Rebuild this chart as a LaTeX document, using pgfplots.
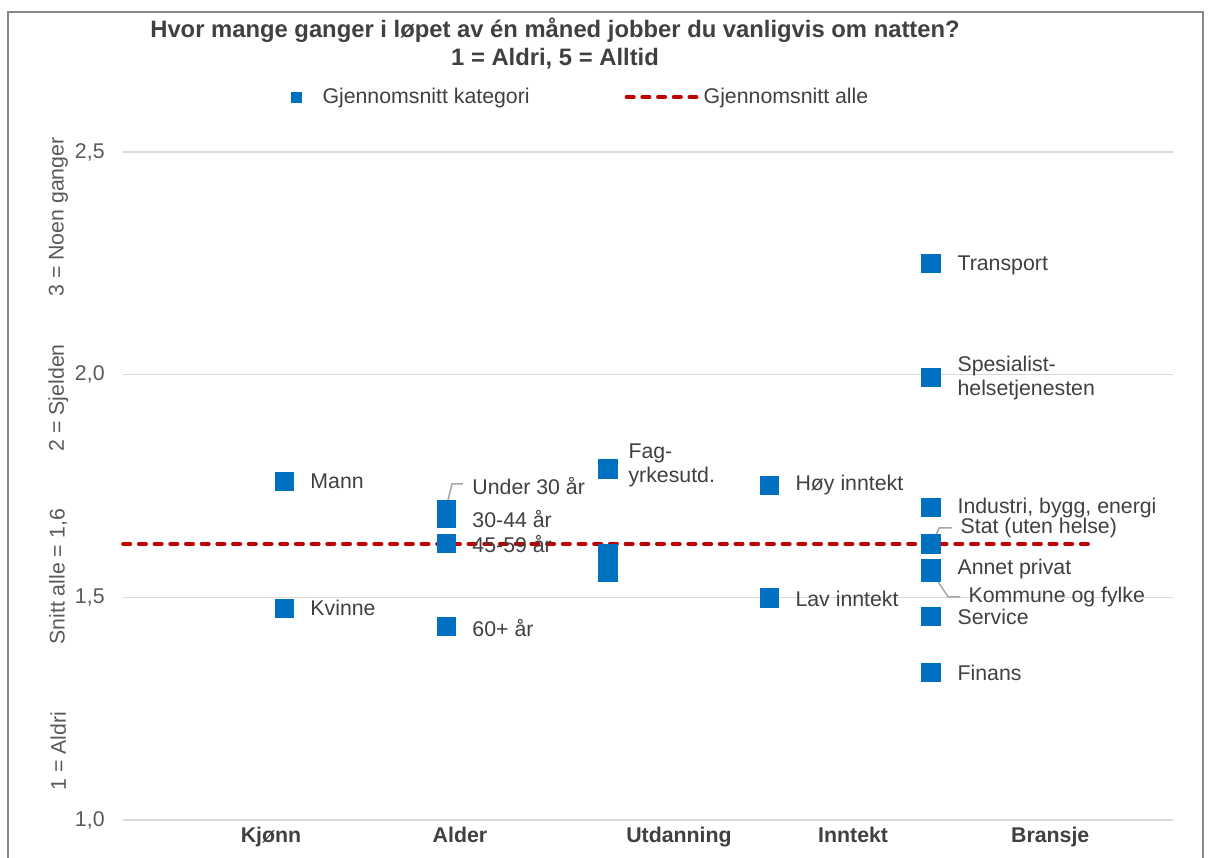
\documentclass[border=0pt]{standalone}
\usepackage{pgfplots}
\pgfplotsset{compat=1.18}
\usepackage{fontspec}
\setmainfont{Liberation Sans}
\definecolor{mblue}{HTML}{0070C0}
\definecolor{dred}{HTML}{C00000}
\definecolor{textgray}{HTML}{404040}
\definecolor{tickgray}{HTML}{595959}
\definecolor{gridgray}{HTML}{D9D9D9}
\definecolor{leadgray}{HTML}{A6A6A6}
\definecolor{bordergray}{HTML}{878787}
\newcommand{\lblfont}{\fontsize{10.65}{12}\selectfont}
\tikzset{lbl/.style={anchor=west, inner sep=0pt, text=textgray, font=\lblfont, align=left}}
\begin{document}
\begin{tikzpicture}
\useasboundingbox (0,0) rectangle (604pt,428.5pt);
\draw[color=bordergray, line width=1pt] (4pt,-20pt) -- (4pt,422.5pt) -- (601.5pt,422.5pt) -- (601.5pt,-20pt);
\begin{axis}[
  at={(61.5pt,18.5pt)}, anchor=south west,
  width=525pt, height=334pt, scale only axis,
  xmin=0, xmax=6.5, ymin=1, ymax=2.5,
  ytick={1,1.5,2,2.5},
  yticklabel={\pgfmathprintnumber[fixed,fixed zerofill,precision=1,use comma]{\tick}},
  xtick={0.916,2.086,3.442,4.520,5.740},
  xticklabels={Kjønn,Alder,Utdanning,Inntekt,Bransje},
  ymajorgrids, grid style={color=gridgray, line width=0.75pt},
  axis line style={draw=none}, major tick length=0pt,
  clip=false,
  /pgf/number format/assume math mode=true,
  yticklabel style={font=\lblfont, text=tickgray, inner sep=0pt, anchor=east, xshift=-9pt},
  xticklabel style={font=\lblfont\bfseries, text=textgray, inner sep=0pt, anchor=north, yshift=-3.5pt},
  legend columns=2,
  legend style={at={(0.154,1.0823)}, anchor=west, draw=none, fill=none,
    nodes={inner sep=0pt, anchor=west, text=textgray, font=\lblfont},
    /tikz/every even column/.append style={column sep=47.5pt}},
]
\addplot[mblue, only marks, mark=square*, mark size=4.6pt, mark options={solid, fill=mblue, draw=mblue, line width=0.3pt},
  legend image code/.code={\fill[mblue] (0pt,-2.5pt) rectangle (5pt,2.5pt); \path[draw=none, fill=none] (0pt,0pt) -- (15.5pt,0pt);}]
  coordinates {
  (1,1.761) (1,1.476)
  (2,1.697) (2,1.679) (2,1.621) (2,1.435)
  (3,1.789) (3,1.598) (3,1.556)
  (4,1.752) (4,1.499)
  (5,2.250) (5,1.994) (5,1.702) (5,1.620) (5,1.565) (5,1.557) (5,1.458) (5,1.332)
  };
\addlegendentry{Gjennomsnitt kategori}
\addplot[dred, line width=1.8pt, dash pattern=on 3.7pt off 4.15pt, line cap=round,
  legend image code/.code={\draw[dred, line width=1.8pt, dash pattern=on 3.7pt off 4.15pt, line cap=round] (0.9pt,0pt) -- (37pt,0pt); \path[draw=none, fill=none] (0pt,0pt) -- (39.5pt,0pt);}]
  coordinates {(0,1.62) (6,1.62)};
\addlegendentry{Gjennomsnitt alle}
% leader lines
\addplot[forget plot, leadgray, line width=0.75pt] coordinates {(2.0,1.7006) (2.037,1.7545) (2.105,1.7545)};
\addplot[forget plot, leadgray, line width=0.75pt] coordinates {(5.009,1.622) (5.053,1.6557) (5.133,1.6557)};
\addplot[forget plot, leadgray, line width=0.75pt] coordinates {(5.009,1.5547) (5.108,1.5008) (5.183,1.5008)};
% data labels
\node[lbl] at (axis cs:1.158,1.761) {Mann};
\node[lbl] at (axis cs:1.158,1.476) {Kvinne};
\node[lbl] at (axis cs:2.161,1.750) {Under 30 år};
\node[lbl] at (axis cs:2.161,1.676) {30-44 år};
\node[lbl] at (axis cs:2.161,1.620) {45-59 år};
\node[lbl] at (axis cs:2.161,1.431) {60+ år};
\node[lbl] at (axis cs:3.127,1.797) {Fag-\\yrkesutd.};
\node[lbl] at (axis cs:4.161,1.752) {Høy inntekt};
\node[lbl] at (axis cs:4.161,1.496) {Lav inntekt};
\node[lbl] at (axis cs:5.164,2.246) {Transport};
\node[lbl] at (axis cs:5.164,1.993) {Spesialist-\\helsetjenesten};
\node[lbl] at (axis cs:5.164,1.701) {Industri, bygg, energi};
\node[lbl] at (axis cs:5.183,1.656) {Stat (uten helse)};
\node[lbl] at (axis cs:5.164,1.564) {Annet privat};
\node[lbl] at (axis cs:5.232,1.501) {Kommune og fylke};
\node[lbl] at (axis cs:5.164,1.456) {Service};
\node[lbl] at (axis cs:5.164,1.330) {Finans};
% rotated axis descriptions
\node[rotate=90, inner sep=0pt, text=tickgray, font=\lblfont] at (axis cs:-0.40,1.155) {1 = Aldri};
\node[rotate=90, inner sep=0pt, text=tickgray, font=\lblfont] at (axis cs:-0.40,1.546) {Snitt alle = 1,6};
\node[rotate=90, inner sep=0pt, text=tickgray, font=\lblfont] at (axis cs:-0.40,1.948) {2 = Sjelden};
\node[rotate=90, inner sep=0pt, text=tickgray, font=\lblfont] at (axis cs:-0.40,2.354) {3 = Noen ganger};
\end{axis}
\node[align=center, text=textgray, font=\fontsize{11.9}{14}\selectfont\bfseries, inner sep=0pt] at (277.5pt,406.5pt)
  {Hvor mange ganger i løpet av én måned jobber du vanligvis om natten?\\1 = Aldri, 5 = Alltid};
\end{tikzpicture}
\end{document}
